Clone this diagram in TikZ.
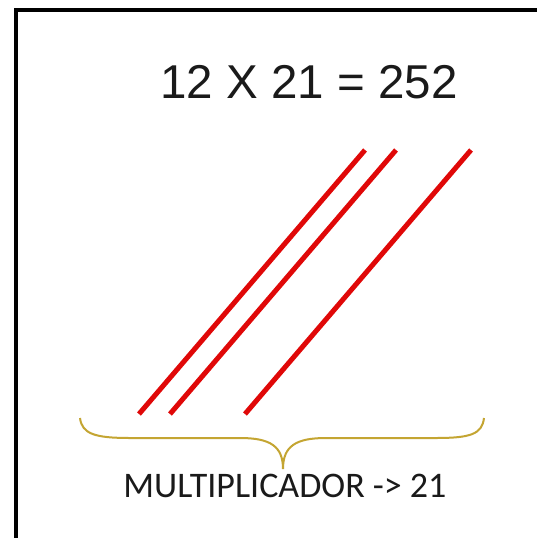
\documentclass[tikz,border=0pt]{standalone}
\usepackage{fontspec}
\setmainfont{Liberation Sans}
\newfontfamily\calib{Carlito}
\definecolor{linered}{HTML}{E00808}
\definecolor{bracegold}{HTML}{C4A532}
\definecolor{textgray}{HTML}{1A1A1A}
\tikzset{
  redline/.style={draw=linered, line width=5pt, line cap=butt},
  frameline/.style={draw=black, line width=4pt},
  bracestyle/.style={draw=bracegold, line width=2pt},
}
\begin{document}
\begin{tikzpicture}[x=1pt,y=-1pt]
\useasboundingbox (0,0) rectangle (537,538);
\fill[white] (0,0) rectangle (537,538);
\draw[frameline] (16,540) -- (16,10) -- (540,10);
\node[anchor=base, inner sep=0pt, text=textgray, font=\fontsize{47.5}{52}\selectfont] (title) at (309,98) {12 X 21 = 252};
% lines
\coordinate (a1) at (365,150); \coordinate (a2) at (139,414);
\coordinate (b1) at (396,150); \coordinate (b2) at (170,414);
\coordinate (c1) at (471,150); \coordinate (c2) at (245,414);
\draw[redline] (a1) -- (a2);
\draw[redline] (b1) -- (b2);
\draw[redline] (c1) -- (c2);
% brace
\coordinate (bl) at (80,418);
\coordinate (br) at (484,418);
\coordinate (tip) at (283,469);
\draw[bracestyle] (bl) .. controls (82,434) and (95,438) .. (130,438) -- (240,438)
  .. controls (270,438) and (283,446) .. (tip)
  .. controls (283,446) and (296,438) .. (326,438) -- (436,438)
  .. controls (471,438) and (482,434) .. (br);
\node[anchor=base, inner sep=0pt, text=textgray, font=\calib\fontsize{36}{40}\selectfont] (mult) at (285,497) {MULTIPLICADOR -> 21};
\end{tikzpicture}
\end{document}
